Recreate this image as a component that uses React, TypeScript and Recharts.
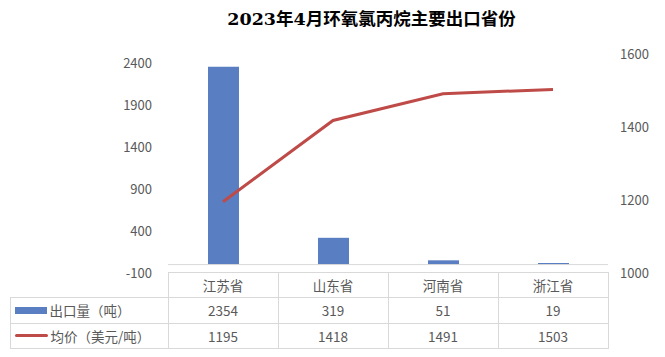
import React from 'react'
import { ComposedChart, Bar, Line, YAxis, XAxis, ReferenceLine } from 'recharts'

const title = '2023年4月环氧氯丙烷主要出口省份'
const provinces = ['江苏省', '山东省', '河南省', '浙江省']
const exportQty = [2354, 319, 51, 19]
const avgPrice = [1195, 1418, 1491, 1503]
const leftTicks = [-100, 400, 900, 1400, 1900, 2400]
const rightTicks = [1000, 1200, 1400, 1600]
const seriesNames = ['出口量（吨）', '均价（美元/吨）']

const data = provinces.map((p, i) => ({ name: p, qty: exportQty[i], price: avgPrice[i] }))

const BLUE = '#5A7EC2'
const RED = '#BE4B48'
const GRID = '#d9d9d9'
const TXT = '#595959'
const FONT = '"Noto Sans CJK SC", "Noto Sans", sans-serif'

const plotLeft = 168
const plotRight = 608
const colW = (plotRight - plotLeft) / provinces.length
const tableTop = 272
const rowH = 25.5
const tableLeft = 10

function Cell({ x, y, w, h, children, left }: any) {
  return (
    <div style={{
      position: 'absolute', left: x, top: y, width: w, height: h, boxSizing: 'border-box',
      border: `1px solid ${GRID}`, marginLeft: -0.5, marginTop: -0.5,
      display: 'flex', alignItems: 'center', justifyContent: left ? 'flex-start' : 'center',
      fontSize: 13.5, color: TXT, fontFamily: FONT, whiteSpace: 'nowrap',
    }}>{children}</div>
  )
}

export default function App() {
  const rows = [exportQty, avgPrice]
  return (
    <div style={{ position: 'relative', width: 665, height: 357, background: '#fff', overflow: 'hidden' }}>
      <style>{'body{margin:0}'}</style>
      <div style={{ position: 'absolute', left: 0, top: 5, width: 665, textAlign: 'center', paddingLeft: 78, boxSizing: 'border-box', fontFamily: '"DejaVu Serif", "Noto Sans CJK SC", serif', fontWeight: 'bold', fontSize: 17.5, color: '#000' }}>
        {title}
      </div>
      <div style={{ position: 'absolute', left: 0, top: 0 }}>
        <ComposedChart width={665} height={357} data={data} margin={{ top: 54, bottom: 84, left: 108, right: 0 }} barCategoryGap="36%">
          <XAxis dataKey="name" hide />
          <YAxis yAxisId="l" width={60} domain={[-100, 2507]} ticks={leftTicks} axisLine={false} tickLine={false}
            tick={{ fontSize: 13, fill: TXT, fontFamily: FONT }} tickMargin={10} interval={0} allowDataOverflow />
          <YAxis yAxisId="r" orientation="right" width={57} domain={[1000, 1600]} ticks={rightTicks} axisLine={false} tickLine={false}
            tick={{ fontSize: 13, fill: TXT, fontFamily: FONT, textAnchor: 'start' }} tickMargin={6} interval={0} />
          <ReferenceLine yAxisId="l" y={0} stroke={GRID} strokeWidth={1} />
          <Bar yAxisId="l" dataKey="qty" fill={BLUE} barSize={31} isAnimationActive={false} />
          <Line yAxisId="r" dataKey="price" type="linear" stroke={RED} strokeWidth={3} dot={false} isAnimationActive={false} />
        </ComposedChart>
      </div>
      {provinces.map((p, i) => (
        <Cell key={p} x={plotLeft + i * colW} y={tableTop} w={colW + 1} h={rowH + 1}>{p}</Cell>
      ))}
      {rows.map((r, ri) => (
        <React.Fragment key={ri}>
          <Cell x={tableLeft} y={tableTop + (ri + 1) * rowH} w={plotLeft - tableLeft + 1} h={rowH + 1} left>
            {ri === 0
              ? <span style={{ display: 'inline-block', width: 32, height: 7, background: BLUE, marginLeft: 4, marginRight: 3 }} />
              : <span style={{ display: 'inline-block', width: 33, height: 3, background: RED, borderRadius: 2, marginLeft: 4, marginRight: 3 }} />}
            {seriesNames[ri]}
          </Cell>
          {r.map((v, i) => (
            <Cell key={i} x={plotLeft + i * colW} y={tableTop + (ri + 1) * rowH} w={colW + 1} h={rowH + 1}>{v}</Cell>
          ))}
        </React.Fragment>
      ))}
    </div>
  )
}
